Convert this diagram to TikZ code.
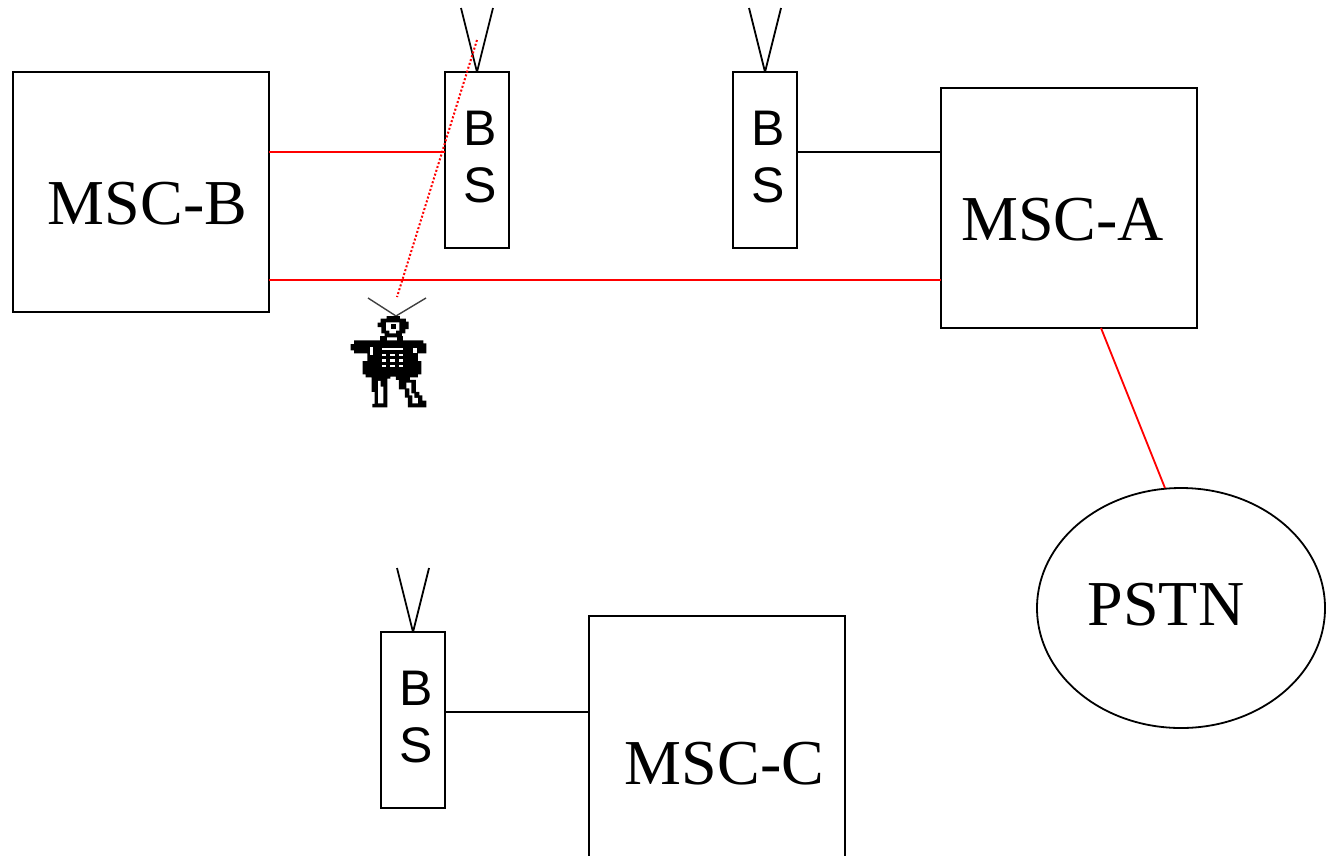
\documentclass[tikz,border=0pt]{standalone}
\usepackage{fontspec}
\setmainfont{Liberation Serif}
\newfontfamily\bsfont{Liberation Sans}
\usetikzlibrary{shapes.geometric}
\definecolor{linkred}{RGB}{255,0,0}
\tikzset{
  x=1pt,y=-1pt,
  boxed/.style={draw=black,line width=1.8pt,rectangle,inner sep=0pt,outer sep=0pt,anchor=north west},
  msc/.style={boxed,minimum width=256pt,minimum height=240pt},
  bs/.style={boxed,minimum width=64pt,minimum height=176pt},
  cloud/.style={draw=black,line width=1.8pt,ellipse,inner sep=0pt,outer sep=0pt,minimum width=288pt,minimum height=240pt},
  big/.style={font=\fontsize{64}{64}\selectfont,anchor=base,inner sep=0pt},
  bslabel/.style={font=\bsfont\fontsize{50}{50}\selectfont,anchor=base,inner sep=0pt},
  redlink/.style={draw=linkred,line width=1.8pt},
  blacklink/.style={draw=black,line width=1.8pt},
  air/.style={draw=linkred,line width=2pt,dotted},
  ant/.style={draw=black,line width=1.8pt,line join=round},
  mobileant/.style={draw=black!75,line width=1.4pt,line join=round},
  pix/.style={fill=black,draw=none},
  hole/.style={fill=white,draw=none}
}
\begin{document}
\begin{tikzpicture}
\useasboundingbox (0,0) rectangle (1332,855);
\node[msc] (mb) at (13,72) {};
\node[msc] (ma) at (941,88) {};
\node[msc,minimum height=256pt] (mc) at (589,616) {};
\node[bs] (b1) at (445,72) {};
\node[bs] (b2) at (733,72) {};
\node[bs] (b3) at (381,632) {};
\node[cloud] (pstn) at (1181,608) {};
\node[big] (tmb) at (147.5,224) {MSC-B};
\node[big] (tma) at (1062.5,240) {MSC-A};
\node[big] (tmc) at (724.5,784) {MSC-C};
\node[big] (tp) at (1166,625) {PSTN};
\node[bslabel] (b1a) at (480.5,145) {B};
\node[bslabel] (b1b) at (480.5,202) {S};
\node[bslabel] (b2a) at (768.5,145) {B};
\node[bslabel] (b2b) at (768.5,202) {S};
\node[bslabel] (b3a) at (416.5,705) {B};
\node[bslabel] (b3b) at (416.5,762) {S};
\coordinate (y1) at (0,152);
\coordinate (y2) at (0,280);
\coordinate (y3) at (0,712);
\draw[redlink] (mb.east |- y1) -- (b1.west |- y1);
\draw[redlink] (mb.east |- y2) -- (ma.west |- y2);
\draw[blacklink] (b2.east |- y1) -- (ma.west |- y1);
\draw[blacklink] (b3.east |- y3) -- (mc.west |- y3);
\coordinate (mas) at (1101,328);
\coordinate (pn) at (1165,488);
\draw[redlink] (mas) -- (pn);
\coordinate (a1l) at (461,8);\coordinate (a1r) at (493,8);
\coordinate (a2l) at (749,8);\coordinate (a2r) at (781,8);
\coordinate (a3l) at (397,568);\coordinate (a3r) at (429,568);
\draw[ant] (a1l) -- (b1.north) -- (a1r);
\draw[ant] (a2l) -- (b2.north) -- (a2r);
\draw[ant] (a3l) -- (b3.north) -- (a3r);
\coordinate (airtop) at (477,40);
\coordinate (airbot) at (397,297);
\draw[air] (airtop) -- (airbot);
\coordinate (mal) at (368,298);\coordinate (mar) at (426,298);\coordinate (map) at (396,316);
\draw[mobileant] (mal) -- (map) -- (mar);
\begin{scope}[shift={(330,280)},x=0.3333pt,y=-0.3333pt]
  % head
  \fill[pix] (143,128)--(152,128)--(152,116)--(170,116)--(170,108)--(210,108)--(210,116)--(228,116)--(228,125)--(236,125)--(236,147)--(226,147)--(226,160)--(216,160)--(216,172)--(164,172)--(164,160)--(154,160)--(154,141)--(143,141)--cycle;
  \fill[hole] (168,127)--(208,127)--(208,152)--(198,152)--(198,160)--(178,160)--(178,152)--(168,152)--cycle;
  \fill[pix] (184,132) rectangle (199,147);
  % neck
  \fill[pix] (150,168) rectangle (170,184);
  \fill[pix] (200,168) rectangle (220,184);
  % arms and torso
  \fill[pix] (62,192)--(72,192)--(72,181)--(280,181)--(280,190)--(289,190)--(289,220)--(264,220)--(264,243)--(274,243)--(274,283)--(264,283)--(264,292)--(240,292)--(240,300)--(258,300)--(258,336)--(268,336)--(268,346)--(277,346)--(277,362)--(289,362)--(289,382)--(234,382)--(234,353)--(225,353)--(225,328)--(207,328)--(207,300)--(198,300)--(198,290)--(181,290)--(181,296)--(172,296)--(172,382)--(127,382)--(127,372)--(134,372)--(134,336)--(125,336)--(125,292)--(107,292)--(107,283)--(98,283)--(98,243)--(112,243)--(112,220)--(72,220)--(72,211)--(62,211)--cycle;
  % armpits
  \fill[hole] (120,201) rectangle (130,226);
  \fill[hole] (248,203) rectangle (262,219);
  % keypad
  \fill[hole] (156,203) rectangle (220,209);
  \foreach \kx in {155,181,206}{\foreach \ky in {222,238,254}{\fill[hole] (\kx,\ky) rectangle (\kx+14,\ky+7);}}
  % leg highlights
  \fill[hole] (144,303)--(152,303)--(152,320)--(160,320)--(160,370)--(144,370)--cycle;
  \fill[hole] (229,308)--(244,308)--(244,340)--(253,340)--(253,354)--(264,354)--(264,370)--(247,370)--(247,346)--(238,346)--(238,325)--(229,325)--cycle;
\end{scope}
\end{tikzpicture}
\end{document}
